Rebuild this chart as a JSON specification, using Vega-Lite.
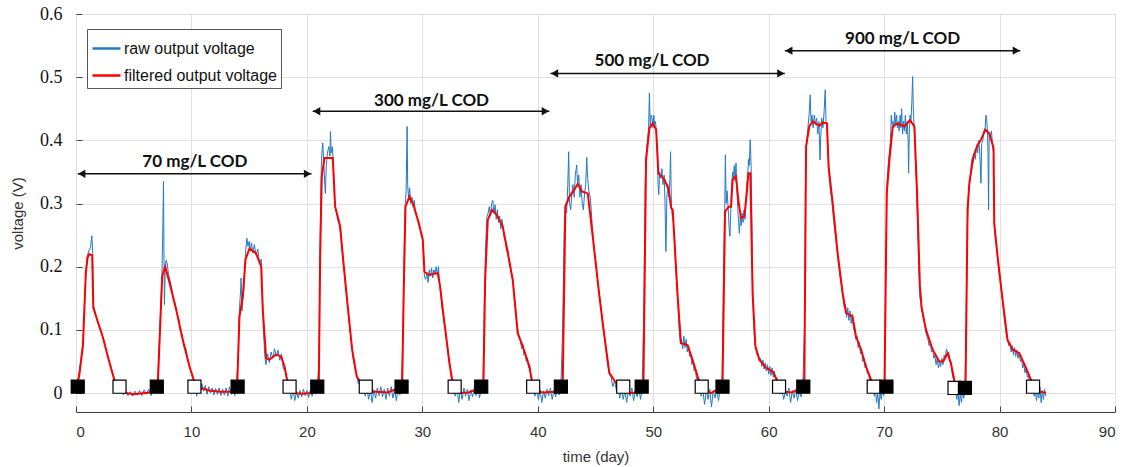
{
  "$schema": "https://vega.github.io/schema/vega-lite/v6.json",
  "autosize": {"type": "none"},
  "width": 1039,
  "height": 398,
  "padding": {"left": 76, "top": 14, "right": 15, "bottom": 55},
  "background": "white",
  "config": {
    "view": {"stroke": "#3a3a3a", "strokeWidth": 1},
    "axis": {"gridColor": "#e0e0e0", "gridWidth": 1, "domain": false, "tickColor": "#444", "titleFont": "Liberation Sans", "titleFontWeight": "normal", "titleFontSize": 15, "titleColor": "#333"}
  },
  "datasets": {
    "raw": [
      {"t":0.0,"v":0.01},{"t":0.2,"v":0.025},{"t":0.4,"v":0.05},{"t":0.6,"v":0.08},{"t":0.8,"v":0.17},{"t":0.95,"v":0.215},{"t":1.1,"v":0.225},{"t":1.25,"v":0.23},{"t":1.37,"v":0.249},{"t":1.45,"v":0.222},{"t":1.5,"v":0.14},{"t":1.7,"v":0.125},{"t":1.9,"v":0.11},{"t":2.1,"v":0.1},{"t":2.4,"v":0.085},{"t":2.7,"v":0.062},{"t":3.0,"v":0.042},{"t":3.3,"v":0.024},{"t":3.6,"v":0.01},{"t":3.9,"v":0.006},{"t":4.1,"v":-0.003},{"t":4.3,"v":0.004},{"t":4.5,"v":-0.004},{"t":4.7,"v":0.002},{"t":4.9,"v":-0.005},{"t":5.1,"v":0.003},{"t":5.3,"v":-0.003},{"t":5.5,"v":0.004},{"t":5.7,"v":-0.004},{"t":5.9,"v":0.005},{"t":6.1,"v":-0.002},{"t":6.3,"v":0.006},{"t":6.5,"v":-0.004},{"t":6.7,"v":0.007},{"t":6.9,"v":0.0},
      {"t":7.08,"v":0.02},{"t":7.3,"v":0.12},{"t":7.45,"v":0.19},{"t":7.52,"v":0.26},{"t":7.58,"v":0.335},{"t":7.62,"v":0.22},{"t":7.66,"v":0.14},{"t":7.72,"v":0.19},{"t":7.8,"v":0.21},{"t":7.9,"v":0.205},{"t":8.0,"v":0.19},{"t":8.15,"v":0.178},{"t":8.3,"v":0.165},{"t":8.45,"v":0.145},{"t":8.6,"v":0.142},{"t":8.75,"v":0.124},{"t":8.9,"v":0.118},{"t":9.05,"v":0.097},{"t":9.2,"v":0.093},{"t":9.35,"v":0.074},{"t":9.5,"v":0.072},{"t":9.65,"v":0.055},{"t":9.8,"v":0.047},{"t":9.95,"v":0.033},{"t":10.1,"v":0.025},{"t":10.3,"v":0.012},{"t":10.45,"v":-0.005},{"t":10.6,"v":0.012},{"t":10.75,"v":0.0},{"t":10.9,"v":0.015},{"t":11.05,"v":0.003},{"t":11.2,"v":0.012},{"t":11.35,"v":-0.002},{"t":11.5,"v":0.01},{"t":11.65,"v":0.0},{"t":11.8,"v":0.008},{"t":11.95,"v":-0.003},{"t":12.1,"v":0.007},{"t":12.25,"v":-0.002},{"t":12.4,"v":0.008},{"t":12.55,"v":-0.004},{"t":12.7,"v":0.006},{"t":12.85,"v":-0.003},{"t":13.0,"v":0.008},{"t":13.15,"v":-0.005},{"t":13.3,"v":0.01},{"t":13.45,"v":-0.002},{"t":13.6,"v":0.012},{"t":13.75,"v":-0.004},{"t":13.9,"v":0.01},
      {"t":14.05,"v":0.06},{"t":14.15,"v":0.13},{"t":14.25,"v":0.16},{"t":14.3,"v":0.182},{"t":14.38,"v":0.13},{"t":14.45,"v":0.15},{"t":14.55,"v":0.165},{"t":14.62,"v":0.2},{"t":14.7,"v":0.225},{"t":14.8,"v":0.245},{"t":14.9,"v":0.232},{"t":15.0,"v":0.24},{"t":15.1,"v":0.225},{"t":15.2,"v":0.238},{"t":15.3,"v":0.222},{"t":15.45,"v":0.235},{"t":15.6,"v":0.218},{"t":15.75,"v":0.228},{"t":15.9,"v":0.205},{"t":16.05,"v":0.212},{"t":16.15,"v":0.15},{"t":16.25,"v":0.095},{"t":16.35,"v":0.06},{"t":16.45,"v":0.045},{"t":16.6,"v":0.062},{"t":16.75,"v":0.048},{"t":16.9,"v":0.065},{"t":17.05,"v":0.055},{"t":17.2,"v":0.07},{"t":17.35,"v":0.058},{"t":17.5,"v":0.068},{"t":17.65,"v":0.052},{"t":17.8,"v":0.062},{"t":17.95,"v":0.038},{"t":18.1,"v":0.04},{"t":18.2,"v":0.025},{"t":18.35,"v":0.018},{"t":18.5,"v":0.005},{"t":18.65,"v":-0.01},{"t":18.8,"v":0.005},{"t":18.95,"v":-0.012},{"t":19.1,"v":0.002},{"t":19.25,"v":-0.008},{"t":19.4,"v":0.004},{"t":19.55,"v":-0.006},{"t":19.7,"v":0.006},{"t":19.85,"v":-0.004},{"t":20.0,"v":0.004},{"t":20.15,"v":-0.007},{"t":20.3,"v":0.005},{"t":20.45,"v":-0.005},{"t":20.6,"v":0.008},{"t":20.75,"v":-0.002},{"t":20.9,"v":0.01},
      {"t":21.05,"v":0.05},{"t":21.15,"v":0.25},{"t":21.25,"v":0.36},{"t":21.32,"v":0.385},{"t":21.37,"v":0.396},{"t":21.45,"v":0.37},{"t":21.55,"v":0.33},{"t":21.6,"v":0.316},{"t":21.68,"v":0.36},{"t":21.78,"v":0.38},{"t":21.9,"v":0.39},{"t":22.0,"v":0.375},{"t":22.04,"v":0.414},{"t":22.1,"v":0.38},{"t":22.2,"v":0.39},{"t":22.3,"v":0.36},{"t":22.4,"v":0.3},{"t":22.5,"v":0.29},{"t":22.6,"v":0.282},{"t":22.7,"v":0.272},{"t":22.8,"v":0.268},{"t":22.9,"v":0.255},{"t":23.0,"v":0.235},{"t":23.1,"v":0.215},{"t":23.25,"v":0.19},{"t":23.4,"v":0.16},{"t":23.55,"v":0.135},{"t":23.7,"v":0.105},{"t":23.85,"v":0.08},{"t":24.0,"v":0.055},{"t":24.15,"v":0.04},{"t":24.3,"v":0.03},{"t":24.45,"v":0.015},{"t":24.6,"v":0.02},{"t":24.75,"v":0.002},{"t":24.9,"v":0.012},{"t":25.05,"v":-0.005},{"t":25.2,"v":0.008},{"t":25.35,"v":-0.01},{"t":25.5,"v":0.006},{"t":25.65,"v":-0.015},{"t":25.8,"v":0.005},{"t":25.95,"v":-0.008},{"t":26.1,"v":0.008},{"t":26.25,"v":-0.004},{"t":26.4,"v":0.01},{"t":26.55,"v":-0.006},{"t":26.7,"v":0.006},{"t":26.85,"v":-0.01},{"t":27.0,"v":0.008},{"t":27.15,"v":-0.005},{"t":27.3,"v":0.01},{"t":27.45,"v":-0.008},{"t":27.6,"v":0.005},{"t":27.75,"v":-0.012},{"t":27.9,"v":0.006},{"t":28.05,"v":-0.003},{"t":28.2,"v":0.01},
      {"t":28.35,"v":0.12},{"t":28.45,"v":0.25},{"t":28.52,"v":0.3},{"t":28.6,"v":0.32},{"t":28.68,"v":0.422},{"t":28.73,"v":0.33},{"t":28.8,"v":0.31},{"t":28.9,"v":0.325},{"t":29.0,"v":0.3},{"t":29.1,"v":0.31},{"t":29.2,"v":0.295},{"t":29.3,"v":0.305},{"t":29.4,"v":0.285},{"t":29.5,"v":0.28},{"t":29.6,"v":0.275},{"t":29.7,"v":0.265},{"t":29.8,"v":0.262},{"t":29.9,"v":0.25},{"t":30.0,"v":0.245},{"t":30.1,"v":0.225},{"t":30.18,"v":0.185},{"t":30.28,"v":0.18},{"t":30.4,"v":0.19},{"t":30.5,"v":0.175},{"t":30.6,"v":0.195},{"t":30.7,"v":0.185},{"t":30.8,"v":0.198},{"t":30.9,"v":0.182},{"t":31.0,"v":0.195},{"t":31.1,"v":0.19},{"t":31.2,"v":0.2},{"t":31.3,"v":0.188},{"t":31.4,"v":0.2},{"t":31.5,"v":0.17},{"t":31.6,"v":0.16},{"t":31.7,"v":0.135},{"t":31.8,"v":0.125},{"t":31.9,"v":0.11},{"t":32.0,"v":0.1},{"t":32.1,"v":0.082},{"t":32.2,"v":0.07},{"t":32.3,"v":0.05},{"t":32.4,"v":0.045},{"t":32.5,"v":0.025},{"t":32.6,"v":0.02},{"t":32.7,"v":0.008},{"t":32.85,"v":-0.005},{"t":33.0,"v":0.008},{"t":33.15,"v":-0.015},{"t":33.3,"v":0.004},{"t":33.45,"v":-0.01},{"t":33.6,"v":0.008},{"t":33.75,"v":-0.005},{"t":33.9,"v":0.006},{"t":34.05,"v":-0.012},{"t":34.2,"v":0.005},{"t":34.35,"v":-0.006},{"t":34.5,"v":0.008},{"t":34.65,"v":-0.004},{"t":34.8,"v":0.01},{"t":34.95,"v":-0.008},{"t":35.1,"v":0.006},{"t":35.25,"v":0.012},
      {"t":35.38,"v":0.15},{"t":35.5,"v":0.24},{"t":35.6,"v":0.28},{"t":35.7,"v":0.285},{"t":35.8,"v":0.295},{"t":35.9,"v":0.28},{"t":36.0,"v":0.3},{"t":36.1,"v":0.305},{"t":36.2,"v":0.285},{"t":36.3,"v":0.298},{"t":36.4,"v":0.275},{"t":36.5,"v":0.29},{"t":36.6,"v":0.27},{"t":36.7,"v":0.28},{"t":36.8,"v":0.26},{"t":36.9,"v":0.275},{"t":37.0,"v":0.26},{"t":37.1,"v":0.245},{"t":37.2,"v":0.24},{"t":37.3,"v":0.225},{"t":37.4,"v":0.228},{"t":37.5,"v":0.21},{"t":37.6,"v":0.205},{"t":37.7,"v":0.19},{"t":37.8,"v":0.185},{"t":37.9,"v":0.168},{"t":38.0,"v":0.15},{"t":38.1,"v":0.13},{"t":38.2,"v":0.11},{"t":38.3,"v":0.095},{"t":38.4,"v":0.088},{"t":38.5,"v":0.082},{"t":38.6,"v":0.07},{"t":38.7,"v":0.078},{"t":38.8,"v":0.06},{"t":38.9,"v":0.065},{"t":39.0,"v":0.05},{"t":39.1,"v":0.055},{"t":39.2,"v":0.04},{"t":39.3,"v":0.045},{"t":39.4,"v":0.025},{"t":39.5,"v":0.02},{"t":39.6,"v":0.008},{"t":39.75,"v":-0.005},{"t":39.9,"v":0.008},{"t":40.05,"v":-0.01},{"t":40.2,"v":0.005},{"t":40.35,"v":-0.015},{"t":40.5,"v":0.003},{"t":40.65,"v":-0.008},{"t":40.8,"v":0.006},{"t":40.95,"v":-0.004},{"t":41.1,"v":0.008},{"t":41.25,"v":-0.01},{"t":41.4,"v":0.005},{"t":41.55,"v":-0.006},{"t":41.7,"v":0.008},{"t":41.85,"v":-0.003},{"t":42.0,"v":0.01},
      {"t":42.15,"v":0.1},{"t":42.3,"v":0.27},{"t":42.4,"v":0.3},{"t":42.5,"v":0.285},{"t":42.6,"v":0.33},{"t":42.68,"v":0.382},{"t":42.75,"v":0.3},{"t":42.85,"v":0.29},{"t":42.95,"v":0.315},{"t":43.05,"v":0.33},{"t":43.15,"v":0.31},{"t":43.25,"v":0.345},{"t":43.37,"v":0.361},{"t":43.45,"v":0.33},{"t":43.55,"v":0.345},{"t":43.65,"v":0.31},{"t":43.75,"v":0.33},{"t":43.85,"v":0.3},{"t":43.95,"v":0.29},{"t":44.05,"v":0.315},{"t":44.15,"v":0.33},{"t":44.24,"v":0.373},{"t":44.32,"v":0.34},{"t":44.42,"v":0.32},{"t":44.55,"v":0.31},{"t":44.7,"v":0.27},{"t":44.85,"v":0.235},{"t":45.0,"v":0.21},{"t":45.15,"v":0.185},{"t":45.3,"v":0.16},{"t":45.45,"v":0.14},{"t":45.6,"v":0.11},{"t":45.75,"v":0.095},{"t":45.9,"v":0.07},{"t":46.05,"v":0.045},{"t":46.2,"v":0.03},{"t":46.35,"v":0.025},{"t":46.5,"v":0.01},{"t":46.65,"v":0.02},{"t":46.8,"v":0.005},{"t":46.95,"v":0.012},{"t":47.1,"v":-0.008},{"t":47.25,"v":0.008},{"t":47.4,"v":-0.01},{"t":47.55,"v":0.004},{"t":47.7,"v":-0.015},{"t":47.85,"v":0.006},{"t":48.0,"v":-0.005},{"t":48.15,"v":0.008},{"t":48.3,"v":-0.012},{"t":48.45,"v":0.004},{"t":48.6,"v":-0.006},{"t":48.75,"v":0.008},{"t":48.9,"v":-0.01},{"t":49.05,"v":0.006},
      {"t":49.2,"v":0.15},{"t":49.3,"v":0.33},{"t":49.4,"v":0.38},{"t":49.5,"v":0.4},{"t":49.6,"v":0.42},{"t":49.67,"v":0.475},{"t":49.74,"v":0.42},{"t":49.82,"v":0.44},{"t":49.9,"v":0.435},{"t":49.98,"v":0.42},{"t":50.05,"v":0.44},{"t":50.12,"v":0.425},{"t":50.2,"v":0.43},{"t":50.28,"v":0.41},{"t":50.35,"v":0.38},{"t":50.42,"v":0.33},{"t":50.48,"v":0.314},{"t":50.55,"v":0.35},{"t":50.65,"v":0.34},{"t":50.75,"v":0.355},{"t":50.85,"v":0.33},{"t":50.95,"v":0.345},{"t":51.02,"v":0.3},{"t":51.1,"v":0.224},{"t":51.18,"v":0.31},{"t":51.27,"v":0.33},{"t":51.35,"v":0.31},{"t":51.45,"v":0.34},{"t":51.5,"v":0.382},{"t":51.57,"v":0.3},{"t":51.65,"v":0.28},{"t":51.75,"v":0.27},{"t":51.85,"v":0.24},{"t":51.95,"v":0.2},{"t":52.05,"v":0.17},{"t":52.15,"v":0.14},{"t":52.25,"v":0.1},{"t":52.35,"v":0.08},{"t":52.45,"v":0.085},{"t":52.55,"v":0.07},{"t":52.65,"v":0.09},{"t":52.75,"v":0.072},{"t":52.85,"v":0.085},{"t":52.95,"v":0.065},{"t":53.05,"v":0.075},{"t":53.15,"v":0.058},{"t":53.25,"v":0.062},{"t":53.35,"v":0.045},{"t":53.45,"v":0.05},{"t":53.55,"v":0.035},{"t":53.65,"v":0.038},{"t":53.75,"v":0.022},{"t":53.85,"v":0.025},{"t":53.95,"v":0.01},{"t":54.05,"v":0.012},{"t":54.15,"v":-0.005},{"t":54.3,"v":0.004},{"t":54.45,"v":-0.018},{"t":54.6,"v":0.005},{"t":54.75,"v":-0.01},{"t":54.9,"v":0.006},{"t":55.05,"v":-0.022},{"t":55.2,"v":0.004},{"t":55.35,"v":-0.008},{"t":55.5,"v":0.007},{"t":55.65,"v":-0.012},{"t":55.8,"v":0.005},{"t":55.95,"v":0.008},
      {"t":56.1,"v":0.2},{"t":56.2,"v":0.3},{"t":56.25,"v":0.377},{"t":56.32,"v":0.3},{"t":56.4,"v":0.32},{"t":56.5,"v":0.29},{"t":56.58,"v":0.26},{"t":56.65,"v":0.248},{"t":56.72,"v":0.29},{"t":56.8,"v":0.33},{"t":56.88,"v":0.35},{"t":56.95,"v":0.34},{"t":57.02,"v":0.36},{"t":57.1,"v":0.335},{"t":57.17,"v":0.364},{"t":57.25,"v":0.32},{"t":57.33,"v":0.29},{"t":57.4,"v":0.27},{"t":57.46,"v":0.253},{"t":57.55,"v":0.28},{"t":57.62,"v":0.265},{"t":57.7,"v":0.285},{"t":57.78,"v":0.27},{"t":57.86,"v":0.29},{"t":57.95,"v":0.275},{"t":58.02,"v":0.3},{"t":58.1,"v":0.33},{"t":58.18,"v":0.34},{"t":58.25,"v":0.37},{"t":58.32,"v":0.36},{"t":58.4,"v":0.401},{"t":58.48,"v":0.36},{"t":58.55,"v":0.27},{"t":58.62,"v":0.16},{"t":58.7,"v":0.11},{"t":58.8,"v":0.08},{"t":58.9,"v":0.07},{"t":59.0,"v":0.06},{"t":59.1,"v":0.062},{"t":59.2,"v":0.05},{"t":59.3,"v":0.055},{"t":59.4,"v":0.042},{"t":59.5,"v":0.052},{"t":59.6,"v":0.038},{"t":59.7,"v":0.048},{"t":59.8,"v":0.035},{"t":59.9,"v":0.045},{"t":60.0,"v":0.03},{"t":60.1,"v":0.042},{"t":60.2,"v":0.028},{"t":60.3,"v":0.04},{"t":60.4,"v":0.025},{"t":60.5,"v":0.035},{"t":60.6,"v":0.022},{"t":60.7,"v":0.025},{"t":60.8,"v":0.01},{"t":60.9,"v":0.012},{"t":61.0,"v":-0.002},{"t":61.15,"v":0.006},{"t":61.3,"v":-0.01},{"t":61.45,"v":0.004},{"t":61.6,"v":-0.005},{"t":61.75,"v":0.008},{"t":61.9,"v":-0.015},{"t":62.05,"v":0.004},{"t":62.2,"v":-0.008},{"t":62.35,"v":0.006},{"t":62.5,"v":-0.012},{"t":62.65,"v":0.003},{"t":62.8,"v":-0.006},{"t":62.95,"v":0.008},
      {"t":63.1,"v":0.1},{"t":63.2,"v":0.35},{"t":63.3,"v":0.4},{"t":63.4,"v":0.42},{"t":63.5,"v":0.44},{"t":63.6,"v":0.472},{"t":63.67,"v":0.43},{"t":63.75,"v":0.44},{"t":63.85,"v":0.42},{"t":63.95,"v":0.44},{"t":64.05,"v":0.425},{"t":64.15,"v":0.435},{"t":64.25,"v":0.41},{"t":64.35,"v":0.43},{"t":64.45,"v":0.369},{"t":64.52,"v":0.41},{"t":64.6,"v":0.435},{"t":64.7,"v":0.42},{"t":64.8,"v":0.445},{"t":64.9,"v":0.48},{"t":64.97,"v":0.43},{"t":65.05,"v":0.42},{"t":65.15,"v":0.38},{"t":65.25,"v":0.34},{"t":65.35,"v":0.32},{"t":65.45,"v":0.31},{"t":65.55,"v":0.29},{"t":65.65,"v":0.27},{"t":65.75,"v":0.255},{"t":65.85,"v":0.24},{"t":65.95,"v":0.225},{"t":66.05,"v":0.205},{"t":66.15,"v":0.19},{"t":66.25,"v":0.175},{"t":66.35,"v":0.165},{"t":66.45,"v":0.15},{"t":66.55,"v":0.135},{"t":66.65,"v":0.14},{"t":66.75,"v":0.12},{"t":66.85,"v":0.135},{"t":66.95,"v":0.115},{"t":67.05,"v":0.13},{"t":67.15,"v":0.11},{"t":67.25,"v":0.125},{"t":67.35,"v":0.1},{"t":67.45,"v":0.1},{"t":67.55,"v":0.085},{"t":67.65,"v":0.09},{"t":67.75,"v":0.072},{"t":67.85,"v":0.08},{"t":67.95,"v":0.062},{"t":68.05,"v":0.07},{"t":68.15,"v":0.05},{"t":68.25,"v":0.055},{"t":68.35,"v":0.04},{"t":68.45,"v":0.045},{"t":68.55,"v":0.03},{"t":68.65,"v":0.032},{"t":68.75,"v":0.018},{"t":68.85,"v":0.022},{"t":68.95,"v":0.005},{"t":69.05,"v":0.012},{"t":69.15,"v":-0.005},{"t":69.25,"v":0.005},{"t":69.35,"v":-0.015},{"t":69.45,"v":0.0},{"t":69.55,"v":-0.025},{"t":69.65,"v":0.003},{"t":69.75,"v":-0.01},{"t":69.85,"v":0.006},{"t":69.95,"v":-0.004},{"t":70.05,"v":0.008},
      {"t":70.15,"v":0.2},{"t":70.25,"v":0.33},{"t":70.35,"v":0.36},{"t":70.45,"v":0.38},{"t":70.55,"v":0.4},{"t":70.62,"v":0.44},{"t":70.7,"v":0.425},{"t":70.78,"v":0.43},{"t":70.85,"v":0.42},{"t":70.92,"v":0.445},{"t":71.0,"v":0.425},{"t":71.08,"v":0.44},{"t":71.15,"v":0.42},{"t":71.22,"v":0.43},{"t":71.3,"v":0.415},{"t":71.38,"v":0.44},{"t":71.45,"v":0.42},{"t":71.52,"v":0.45},{"t":71.6,"v":0.41},{"t":71.68,"v":0.43},{"t":71.76,"v":0.415},{"t":71.84,"v":0.44},{"t":71.92,"v":0.41},{"t":72.0,"v":0.43},{"t":72.08,"v":0.4},{"t":72.12,"v":0.348},{"t":72.18,"v":0.41},{"t":72.25,"v":0.44},{"t":72.32,"v":0.43},{"t":72.4,"v":0.46},{"t":72.47,"v":0.501},{"t":72.54,"v":0.44},{"t":72.62,"v":0.42},{"t":72.7,"v":0.38},{"t":72.8,"v":0.33},{"t":72.9,"v":0.27},{"t":73.0,"v":0.2},{"t":73.1,"v":0.15},{"t":73.18,"v":0.145},{"t":73.26,"v":0.13},{"t":73.34,"v":0.125},{"t":73.42,"v":0.115},{"t":73.5,"v":0.11},{"t":73.6,"v":0.098},{"t":73.7,"v":0.09},{"t":73.8,"v":0.085},{"t":73.9,"v":0.075},{"t":74.0,"v":0.08},{"t":74.1,"v":0.065},{"t":74.2,"v":0.07},{"t":74.3,"v":0.055},{"t":74.4,"v":0.06},{"t":74.5,"v":0.045},{"t":74.6,"v":0.055},{"t":74.7,"v":0.04},{"t":74.8,"v":0.05},{"t":74.9,"v":0.042},{"t":75.0,"v":0.055},{"t":75.1,"v":0.045},{"t":75.2,"v":0.06},{"t":75.3,"v":0.055},{"t":75.4,"v":0.07},{"t":75.5,"v":0.062},{"t":75.6,"v":0.065},{"t":75.7,"v":0.05},{"t":75.8,"v":0.045},{"t":75.9,"v":0.03},{"t":76.0,"v":0.022},{"t":76.1,"v":0.015},{"t":76.2,"v":0.0},{"t":76.3,"v":-0.01},{"t":76.4,"v":0.003},{"t":76.5,"v":-0.02},{"t":76.6,"v":0.0},{"t":76.7,"v":-0.015},{"t":76.8,"v":0.004},{"t":76.9,"v":-0.008},{"t":77.0,"v":0.006},
      {"t":77.1,"v":0.1},{"t":77.2,"v":0.26},{"t":77.3,"v":0.31},{"t":77.4,"v":0.33},{"t":77.5,"v":0.35},{"t":77.6,"v":0.37},{"t":77.7,"v":0.365},{"t":77.8,"v":0.38},{"t":77.9,"v":0.37},{"t":78.0,"v":0.39},{"t":78.1,"v":0.38},{"t":78.2,"v":0.4},{"t":78.3,"v":0.375},{"t":78.39,"v":0.332},{"t":78.45,"v":0.395},{"t":78.55,"v":0.4},{"t":78.65,"v":0.415},{"t":78.75,"v":0.42},{"t":78.82,"v":0.44},{"t":78.88,"v":0.435},{"t":78.95,"v":0.415},{"t":79.0,"v":0.38},{"t":79.05,"v":0.29},{"t":79.1,"v":0.41},{"t":79.2,"v":0.405},{"t":79.3,"v":0.415},{"t":79.4,"v":0.39},{"t":79.48,"v":0.38},{"t":79.54,"v":0.27},{"t":79.6,"v":0.25},{"t":79.7,"v":0.235},{"t":79.8,"v":0.22},{"t":79.9,"v":0.2},{"t":80.0,"v":0.185},{"t":80.1,"v":0.17},{"t":80.2,"v":0.155},{"t":80.3,"v":0.14},{"t":80.4,"v":0.12},{"t":80.5,"v":0.105},{"t":80.6,"v":0.09},{"t":80.7,"v":0.085},{"t":80.8,"v":0.075},{"t":80.9,"v":0.08},{"t":81.0,"v":0.065},{"t":81.1,"v":0.075},{"t":81.2,"v":0.06},{"t":81.3,"v":0.072},{"t":81.4,"v":0.058},{"t":81.5,"v":0.068},{"t":81.6,"v":0.055},{"t":81.7,"v":0.065},{"t":81.8,"v":0.05},{"t":81.9,"v":0.055},{"t":82.0,"v":0.04},{"t":82.1,"v":0.045},{"t":82.2,"v":0.032},{"t":82.3,"v":0.038},{"t":82.4,"v":0.025},{"t":82.5,"v":0.028},{"t":82.6,"v":0.015},{"t":82.7,"v":0.018},{"t":82.8,"v":0.005},{"t":82.9,"v":0.01},{"t":83.0,"v":-0.005},{"t":83.1,"v":0.004},{"t":83.2,"v":-0.012},{"t":83.3,"v":0.005},{"t":83.4,"v":-0.008},{"t":83.5,"v":0.01},{"t":83.6,"v":-0.015},{"t":83.7,"v":0.004},{"t":83.8,"v":-0.01},{"t":83.9,"v":0.006},{"t":84.0,"v":-0.005}
    ],
    "filt": [
      {"t":0.0,"v":0.003},{"t":0.3,"v":0.03},{"t":0.6,"v":0.075},{"t":0.85,"v":0.19},{"t":1.0,"v":0.214},{"t":1.15,"v":0.22},{"t":1.4,"v":0.218},{"t":1.5,"v":0.135},{"t":1.8,"v":0.118},{"t":2.3,"v":0.09},{"t":2.8,"v":0.055},{"t":3.3,"v":0.022},{"t":3.8,"v":0.005},{"t":4.3,"v":0.0},{"t":5.0,"v":-0.002},{"t":6.0,"v":0.0},{"t":6.9,"v":0.002},
      {"t":7.08,"v":0.012},{"t":7.47,"v":0.185},{"t":7.72,"v":0.2},{"t":8.1,"v":0.175},{"t":8.68,"v":0.132},{"t":9.25,"v":0.084},{"t":9.83,"v":0.042},{"t":10.2,"v":0.021},{"t":10.5,"v":0.006},{"t":11.0,"v":0.007},{"t":11.5,"v":0.004},{"t":12.5,"v":0.002},{"t":13.5,"v":0.002},{"t":13.96,"v":0.01},
      {"t":14.16,"v":0.121},{"t":14.45,"v":0.153},{"t":14.68,"v":0.211},{"t":15.03,"v":0.229},{"t":15.6,"v":0.221},{"t":16.04,"v":0.2},{"t":16.18,"v":0.132},{"t":16.47,"v":0.055},{"t":16.76,"v":0.053},{"t":17.34,"v":0.061},{"t":17.77,"v":0.058},{"t":18.06,"v":0.042},{"t":18.34,"v":0.016},{"t":18.8,"v":0.0},{"t":19.5,"v":-0.001},{"t":20.5,"v":0.0},{"t":21.03,"v":0.012},
      {"t":21.15,"v":0.216},{"t":21.29,"v":0.343},{"t":21.52,"v":0.372},{"t":22.24,"v":0.372},{"t":22.45,"v":0.295},{"t":22.88,"v":0.264},{"t":23.17,"v":0.206},{"t":23.54,"v":0.137},{"t":23.92,"v":0.069},{"t":24.32,"v":0.026},{"t":25.13,"v":0.003},{"t":26.0,"v":0.002},{"t":27.0,"v":0.001},{"t":28.25,"v":0.01},
      {"t":28.39,"v":0.163},{"t":28.54,"v":0.295},{"t":28.88,"v":0.311},{"t":29.23,"v":0.298},{"t":29.69,"v":0.269},{"t":30.04,"v":0.243},{"t":30.18,"v":0.192},{"t":30.61,"v":0.187},{"t":31.33,"v":0.19},{"t":31.54,"v":0.169},{"t":31.77,"v":0.132},{"t":32.06,"v":0.09},{"t":32.35,"v":0.047},{"t":32.63,"v":0.016},{"t":33.2,"v":0.0},{"t":34.0,"v":0.001},{"t":35.29,"v":0.01},
      {"t":35.44,"v":0.179},{"t":35.67,"v":0.274},{"t":36.04,"v":0.29},{"t":36.44,"v":0.282},{"t":36.96,"v":0.264},{"t":37.4,"v":0.222},{"t":37.83,"v":0.179},{"t":38.26,"v":0.095},{"t":38.7,"v":0.074},{"t":39.27,"v":0.042},{"t":39.48,"v":0.021},{"t":39.7,"v":0.003},{"t":40.5,"v":0.001},{"t":41.5,"v":0.002},{"t":42.16,"v":0.012},
      {"t":42.39,"v":0.295},{"t":42.74,"v":0.311},{"t":43.17,"v":0.322},{"t":43.46,"v":0.331},{"t":43.84,"v":0.319},{"t":44.33,"v":0.316},{"t":44.76,"v":0.248},{"t":45.34,"v":0.153},{"t":45.77,"v":0.09},{"t":46.2,"v":0.032},{"t":46.78,"v":0.016},{"t":47.5,"v":0.001},{"t":48.3,"v":0.0},{"t":49.15,"v":0.01},
      {"t":49.38,"v":0.369},{"t":49.67,"v":0.419},{"t":49.95,"v":0.427},{"t":50.25,"v":0.417},{"t":50.45,"v":0.348},{"t":50.97,"v":0.338},{"t":51.34,"v":0.322},{"t":51.55,"v":0.293},{"t":51.69,"v":0.29},{"t":52.1,"v":0.158},{"t":52.4,"v":0.079},{"t":52.98,"v":0.076},{"t":53.4,"v":0.053},{"t":53.85,"v":0.026},{"t":54.28,"v":0.005},{"t":55.0,"v":0.0},{"t":56.0,"v":0.01},
      {"t":56.22,"v":0.287},{"t":56.54,"v":0.295},{"t":56.74,"v":0.295},{"t":56.88,"v":0.338},{"t":57.17,"v":0.343},{"t":57.37,"v":0.306},{"t":57.6,"v":0.277},{"t":57.9,"v":0.28},{"t":58.1,"v":0.316},{"t":58.24,"v":0.348},{"t":58.41,"v":0.348},{"t":58.61,"v":0.158},{"t":58.85,"v":0.074},{"t":59.19,"v":0.053},{"t":59.77,"v":0.04},{"t":60.35,"v":0.034},{"t":60.78,"v":0.018},{"t":61.07,"v":0.003},{"t":62.0,"v":0.001},{"t":63.09,"v":0.01},
      {"t":63.24,"v":0.39},{"t":63.52,"v":0.422},{"t":63.81,"v":0.43},{"t":64.39,"v":0.423},{"t":64.67,"v":0.428},{"t":65.05,"v":0.427},{"t":65.19,"v":0.359},{"t":65.54,"v":0.301},{"t":65.97,"v":0.222},{"t":66.41,"v":0.158},{"t":66.7,"v":0.127},{"t":67.27,"v":0.121},{"t":67.56,"v":0.09},{"t":68.0,"v":0.069},{"t":68.43,"v":0.042},{"t":68.87,"v":0.021},{"t":69.43,"v":0.005},{"t":70.03,"v":0.006},
      {"t":70.23,"v":0.316},{"t":70.46,"v":0.369},{"t":70.75,"v":0.422},{"t":71.18,"v":0.427},{"t":71.76,"v":0.422},{"t":72.24,"v":0.432},{"t":72.62,"v":0.422},{"t":72.85,"v":0.32},{"t":73.1,"v":0.17},{"t":73.25,"v":0.135},{"t":73.63,"v":0.1},{"t":74.2,"v":0.069},{"t":74.78,"v":0.05},{"t":75.12,"v":0.05},{"t":75.5,"v":0.063},{"t":75.79,"v":0.047},{"t":76.22,"v":0.008},{"t":76.6,"v":0.0},{"t":77.05,"v":0.005},
      {"t":77.23,"v":0.29},{"t":77.38,"v":0.332},{"t":77.73,"v":0.374},{"t":78.1,"v":0.393},{"t":78.39,"v":0.401},{"t":78.77,"v":0.417},{"t":79.11,"v":0.411},{"t":79.48,"v":0.388},{"t":79.54,"v":0.269},{"t":79.83,"v":0.216},{"t":80.26,"v":0.148},{"t":80.69,"v":0.084},{"t":81.13,"v":0.069},{"t":81.71,"v":0.063},{"t":82.29,"v":0.04},{"t":82.72,"v":0.021},{"t":83.29,"v":0.003},{"t":84.02,"v":0.0}
    ],
    "marks": [
      {"t":3.77,"v":0.01,"k":"end"},{"t":10.26,"v":0.01,"k":"end"},{"t":18.5,"v":0.01,"k":"end"},{"t":25.1,"v":0.01,"k":"end"},{"t":32.8,"v":0.01,"k":"end"},{"t":39.6,"v":0.01,"k":"end"},{"t":47.4,"v":0.01,"k":"end"},{"t":54.2,"v":0.01,"k":"end"},{"t":60.9,"v":0.01,"k":"end"},{"t":69.1,"v":0.01,"k":"end"},{"t":76.1,"v":0.008,"k":"end"},{"t":82.9,"v":0.01,"k":"end"},
      {"t":0.15,"v":0.01,"k":"start"},{"t":7.0,"v":0.01,"k":"start"},{"t":14.0,"v":0.01,"k":"start"},{"t":20.9,"v":0.01,"k":"start"},{"t":28.2,"v":0.01,"k":"start"},{"t":35.1,"v":0.01,"k":"start"},{"t":42.0,"v":0.01,"k":"start"},{"t":49.0,"v":0.01,"k":"start"},{"t":56.0,"v":0.01,"k":"start"},{"t":63.0,"v":0.01,"k":"start"},{"t":70.2,"v":0.01,"k":"start"},{"t":77.0,"v":0.008,"k":"start"}
    ],
    "arrows": [
      {"t":0.15,"t2":20.4,"v":0.347},
      {"t":20.5,"t2":41.0,"v":0.446},
      {"t":41.1,"t2":61.4,"v":0.506},
      {"t":61.4,"t2":81.8,"v":0.542}
    ],
    "labels": [
      {"t":10.3,"v":0.365,"label":"70 mg/L COD"},
      {"t":30.8,"v":0.463,"label":"300 mg/L COD"},
      {"t":49.9,"v":0.526,"label":"500 mg/L COD"},
      {"t":71.6,"v":0.561,"label":"900 mg/L COD"}
    ]
  },
  "encoding": {
    "x": {"field": "t", "type": "quantitative", "scale": {"domain": [0, 90], "nice": false, "zero": false},
      "axis": {"title": "time (day)", "values": [0,10,20,30,40,50,60,70,80,90], "labelFont": "Liberation Sans", "labelColor": "#333", "labelFontSize": 15, "tickSize": -6, "labelPadding": 18, "titlePadding": 10}},
    "y": {"field": "v", "type": "quantitative", "scale": {"domain": [-0.03, 0.6], "nice": false, "zero": false},
      "axis": {"title": "voltage (V)", "values": [0,0.1,0.2,0.3,0.4,0.5,0.6], "format": ".1~f", "labelFont": "Liberation Serif", "labelFontSize": 18, "labelColor": "#111", "tickSize": -6, "labelPadding": 20, "titlePadding": 14}}
  },
  "layer": [
    {"data": {"name": "raw"}, "mark": {"type": "line", "strokeWidth": 1, "clip": true},
      "encoding": {"color": {"datum": "raw output voltage", "type": "nominal",
        "scale": {"domain": ["raw output voltage", "filtered output voltage"], "range": ["#2479c4", "#ff0000"]},
        "legend": {"title": null, "orient": "none", "legendX": 11, "legendY": 15, "symbolType": "stroke", "symbolSize": 784, "symbolStrokeWidth": 2.5, "labelFont": "Liberation Sans", "labelFontSize": 16, "labelColor": "#111", "strokeColor": "#555", "fillColor": "white", "padding": 4, "rowPadding": 3, "labelOffset": 2, "labelLimit": 300}}}},
    {"data": {"name": "filt"}, "mark": {"type": "line", "strokeWidth": 2, "clip": true},
      "encoding": {"color": {"datum": "filtered output voltage", "type": "nominal"}}},
    {"data": {"name": "arrows"}, "mark": {"type": "rule", "color": "#111", "strokeWidth": 1.5},
      "encoding": {"x2": {"field": "t2"}}},
    {"data": {"name": "arrows"}, "mark": {"type": "point", "shape": "triangle-left", "filled": true, "color": "#111", "size": 70, "opacity": 1, "xOffset": 4}, "encoding": {}},
    {"data": {"name": "arrows"}, "mark": {"type": "point", "shape": "triangle-right", "filled": true, "color": "#111", "size": 70, "opacity": 1, "xOffset": -4},
      "encoding": {"x": {"field": "t2", "type": "quantitative"}}},
    {"data": {"name": "labels"}, "mark": {"type": "text", "font": "Lato", "fontWeight": "bold", "fontSize": 17, "color": "#111"},
      "encoding": {"text": {"field": "label"}}},
    {"data": {"name": "marks"}, "mark": {"type": "point", "shape": "square", "size": 170, "filled": true, "stroke": "#000", "strokeWidth": 1.2, "opacity": 1},
      "encoding": {"fill": {"field": "k", "type": "nominal", "scale": {"domain": ["start", "end"], "range": ["#000000", "#ffffff"]}, "legend": null}}}
  ]
}
